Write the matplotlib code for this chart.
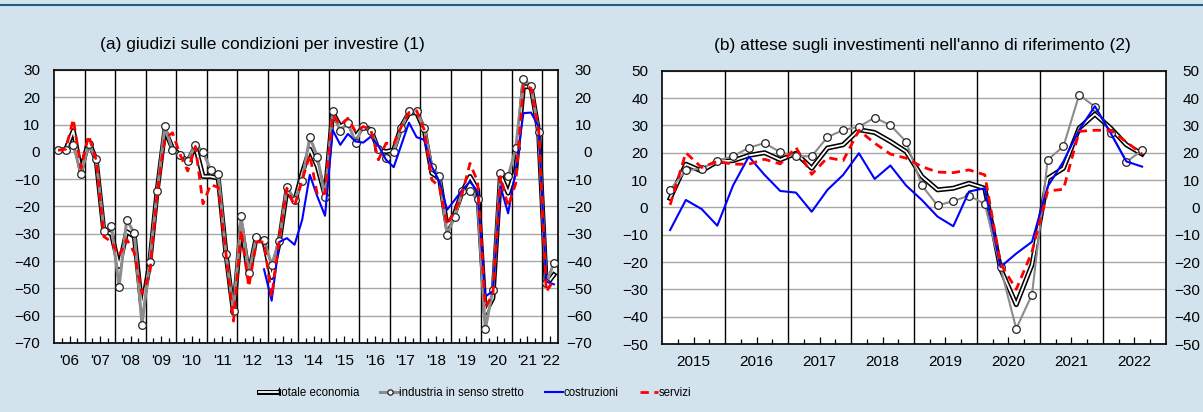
#!/usr/bin/env python3
"""Two-panel chart: investment conditions (a) and investment expectations (b)."""

import matplotlib

matplotlib.use("Agg")

import matplotlib.pyplot as plt
import matplotlib.patheffects as pe
import matplotlib.transforms as mtransforms
from matplotlib.lines import Line2D
import numpy as np


BG = "#d3e3ed"

# ---- panel (a): quarterly, 2006Q1 - 2022Q2 ----
A_START = 2006
A_END = 2022.5
A_TOTALE = [
    0.6, 0.8, 7.8, -7.0,
    4.0, -3.0, -29.0, -30.0,
    -42.0, -29.2, -31.0, -57.3,
    -41.0, -14.0, 8.0, 1.3,
    -1.1, -3.5, 2.0, -9.0,
    -9.0, -9.6, -37.0, -59.0,
    -27.0, -45.0, -31.0, -33.0,
    -46.0, -33.0, -13.9, -18.2,
    -7.8, 1.0, -5.4, -15.8,
    14.4, 9.3, 11.1, 5.6,
    9.3, 8.1, 0.7, 0.1,
    0.7, 9.3, 14.2, 14.4,
    8.1, -7.8, -9.6, -27.4,
    -22.5, -14.5, -9.0, -13.9,
    -59.0, -53.6, -8.4, -15.1,
    -6.6, 23.9, 23.9, 7.4,
    -48.7, -45.0,
]
A_INDUSTRIA = [
    0.6, 0.6, 2.7, -8.2,
    2.8, -2.7, -28.8, -27.1,
    -49.4, -24.9, -29.8, -63.4,
    -40.4, -14.5, 9.4, 0.6,
    -1.3, -3.2, 2.7, 0.1,
    -6.6, -8.2, -37.4, -58.3,
    -23.6, -44.5, -31.1, -32.4,
    -41.4, -32.5, -12.8, -17.8,
    -10.5, 5.4, -1.8, -16.6,
    14.8, 7.8, 10.7, 3.4,
    9.5, 7.7, 1.0, -2.1,
    0.0, 8.9, 14.8, 14.8,
    8.9, -5.6, -8.8, -30.3,
    -23.7, -14.5, -14.5, -17.3,
    -65.0, -50.5, -7.8, -9.0,
    1.3, 26.6, 24.2, 7.2,
    -48.1, -40.7,
]
A_SERVIZI = [
    0.6, 1.0, 12.0, -6.0,
    6.0, -3.0, -31.0, -33.0,
    -38.0, -32.0, -37.0, -51.8,
    -45.0, -15.0, 5.0, 7.0,
    -1.0, -7.0, 2.0, -19.0,
    -12.0, -13.0, -37.0, -62.0,
    -28.6, -49.4, -33.0, -33.0,
    -53.0, -32.0, -13.3, -19.8,
    -10.3, -1.1, -15.8, -15.1,
    13.6, 9.9, 12.3, 7.4,
    9.3, 8.1, -2.9, 3.2,
    2.9, 9.3, 14.4, 15.1,
    8.1, -10.3, -12.7, -26.7,
    -21.9, -15.1, -4.2, -10.9,
    -56.7, -52.4, -9.0, -20.0,
    -11.5, 24.5, 23.3, 8.0,
    -51.2, -47.0,
]
# costruzioni starts in 2012Q4
A_COSTR_START = 2012.75
A_COSTRUZIONI = [
    -43.0,
    -54.5, -33.0, -31.6, -34.0,
    -24.9, -8.4, -16.4, -23.4,
    8.0, 2.6, 6.6, 3.8,
    3.4, 5.6, 2.2, -2.9,
    -5.6, 2.6, 10.7, 5.4,
    4.4, -5.4, -10.9, -21.2,
    -17.6, -13.9, -10.9, -14.5,
    -53.0, -51.0, -12.7, -22.5,
    -6.6, 14.2, 14.4, 9.3,
    -47.5, -48.5,
]
A_YEAR_LABELS = ["'06", "'07", "'08", "'09", "'10", "'11", "'12", "'13", "'14",
                 "'15", "'16", "'17", "'18", "'19", "'20", "'21", "'22"]

# ---- panel (b): quarterly, 2015Q1 - 2022Q3 ----
B_START = 2015
B_END = 2023
B_TOTALE = [
    3.3, 15.8, 13.3, 16.8,
    17.1, 19.0, 20.0, 17.4,
    19.8, 14.3, 21.7, 22.9,
    28.4, 27.4, 24.1, 20.4,
    11.3, 6.4, 7.0, 8.8,
    7.0, -22.4, -35.6, -21.0,
    10.6, 14.3, 29.0, 34.1,
    29.0, 22.9, 19.5,
]
B_INDUSTRIA = [
    6.5, 13.5, 14.2, 17.1,
    18.7, 21.8, 23.5, 20.2,
    18.7, 18.7, 25.7, 28.3,
    29.5, 32.8, 30.1, 24.0,
    8.0, 0.7, 2.3, 4.3,
    1.2, -22.0, -44.4, -31.9,
    17.4, 22.3, 41.2, 36.8,
    27.2, 16.6, 20.9,
]
B_COSTRUZIONI = [
    -8.3, 2.7, -0.6, -6.7,
    8.0, 18.6, 11.9, 6.0,
    5.4, -1.6, 6.4, 11.9,
    19.8, 10.4, 15.3, 8.0,
    2.7, -3.4, -6.9, 5.8,
    7.0, -21.8, -16.9, -12.6,
    7.6, 16.8, 28.4, 37.0,
    27.2, 16.8, 14.9,
]
B_SERVIZI = [
    0.9, 20.0, 14.6, 16.8,
    15.8, 15.8, 17.6, 15.9,
    21.9, 12.1, 18.2, 17.1,
    28.2, 23.5, 19.5, 18.0,
    14.9, 12.9, 12.7, 13.7,
    11.9, -20.6, -30.0, -16.3,
    6.0, 6.6, 27.8, 28.2,
    28.2, 23.9, 19.5,
]
B_YEAR_LABELS = ["2015", "2016", "2017", "2018", "2019", "2020", "2021", "2022"]


def quarters(start, n):
    return start + (np.arange(n) + 0.5) / 4.0


def style_axes(ax, x0, x1, ymin, ymax, labels, label_pos):
    ax.set_facecolor("white")
    ax.set_xlim(x0, x1)
    ax.set_ylim(ymin, ymax)
    ax.set_yticks(np.arange(ymin, ymax + 1, 10))
    ax.yaxis.grid(True, color="#a8a8a8", lw=1.0)
    ax.set_axisbelow(True)
    for yr in range(int(x0) + 1, int(np.ceil(x1))):
        ax.axvline(yr, color="black", lw=1.0, zorder=1)
    for sp in ax.spines.values():
        sp.set_color("black")
        sp.set_linewidth(1.2)

    # year labels sit on the mid-year tick, quarter ticks point inwards
    ax.set_xticks(label_pos)
    ax.set_xticklabels(labels)
    minor = [y + f for y in range(int(x0), int(np.ceil(x1))) for f in (0.25, 0.75)
             if y + f < x1 and y + f not in label_pos]
    ax.set_xticks(minor, minor=True)
    ax.tick_params(axis="x", which="major", direction="in", length=5.3, width=0.9,
                   pad=8, labelsize=11)
    ax.tick_params(axis="x", which="minor", direction="in", length=3.6, width=0.9)

    ax.tick_params(axis="y", length=0, labelsize=11, left=False, right=False,
                   labelleft=True, labelright=True, pad=10)


def draw_series(ax, x_tot, tot, x_ind, ind, x_cos, cos, x_ser, ser, ind_lw):
    ax.plot(x_tot, tot, color="white", lw=1.3, zorder=3,
            path_effects=[pe.Stroke(linewidth=3.6, foreground="black"), pe.Normal()],
            label="totale economia")
    ax.plot(x_ind, ind, color="#8c8c8c", lw=ind_lw, zorder=4, marker="o",
            markersize=5.5, markerfacecolor="white", markeredgecolor="#222222",
            markeredgewidth=0.9, label="industria in senso stretto")
    ax.plot(x_cos, cos, color="#0000ff", lw=1.5, zorder=5, label="costruzioni")
    ax.plot(x_ser, ser, color="#ff0000", lw=2.0, ls=(0, (3, 2)), zorder=6,
            label="servizi")


def main():
    plt.rcParams.update({
        "font.family": ["Liberation Sans", "DejaVu Sans"],
        "font.size": 11,
    })

    fig = plt.figure(figsize=(12.03, 4.12), dpi=100, facecolor=BG)
    ax_a = fig.add_axes([0.0451, 0.1675, 0.4185, 0.6626])
    ax_b = fig.add_axes([0.5505, 0.1650, 0.4185, 0.6634])

    # panel (a)
    xa = quarters(A_START, len(A_TOTALE))
    xc = quarters(A_COSTR_START, len(A_COSTRUZIONI))
    draw_series(ax_a, xa, A_TOTALE, xa, A_INDUSTRIA, xc, A_COSTRUZIONI,
                xa, A_SERVIZI, ind_lw=2.2)
    pos_a = [y + 0.5 for y in range(2006, 2022)] + [2022.25]
    style_axes(ax_a, A_START, A_END, -70, 30, A_YEAR_LABELS, pos_a)
    ax_a.text(0.414, 1.092, "(a) giudizi sulle condizioni per investire (1)",
              transform=ax_a.transAxes, ha="center", va="center", fontsize=12.5)

    # panel (b)
    xb = quarters(B_START, len(B_TOTALE))
    draw_series(ax_b, xb, B_TOTALE, xb, B_INDUSTRIA, xb, B_COSTRUZIONI,
                xb, B_SERVIZI, ind_lw=1.5)
    pos_b = [y + 0.5 for y in range(2015, 2023)]
    style_axes(ax_b, B_START, B_END, -50, 50, B_YEAR_LABELS, pos_b)
    ax_b.text(0.517, 1.092,
              "(b) attese sugli investimenti nell'anno di riferimento (2)",
              transform=ax_b.transAxes, ha="center", va="center", fontsize=12.5)

    # right-side labels are right aligned, about 34 px from the spine
    fig.canvas.draw()
    offset = mtransforms.ScaledTranslation(14.5 / 72, 0, fig.dpi_scale_trans)
    for ax in (ax_a, ax_b):
        for t in ax.yaxis.get_major_ticks():
            t.label2.set_horizontalalignment("right")
            t.label2.set_transform(t.label2.get_transform() + offset)

    # top rule
    fig.add_artist(Line2D([0, 1], [0.988, 0.988], transform=fig.transFigure,
                          color="#1f5f82", lw=1.5))

    handles, labels = ax_a.get_legend_handles_labels()
    fig.legend(handles, labels, loc="center", bbox_to_anchor=(0.395, 0.046),
               ncol=4, frameon=False, handlelength=1.6, handletextpad=0.05,
               columnspacing=1.8, markerscale=0.7, prop={"size": 8.3})

    fig.savefig("out.png", dpi=100, facecolor=BG)


if __name__ == "__main__":
    main()
